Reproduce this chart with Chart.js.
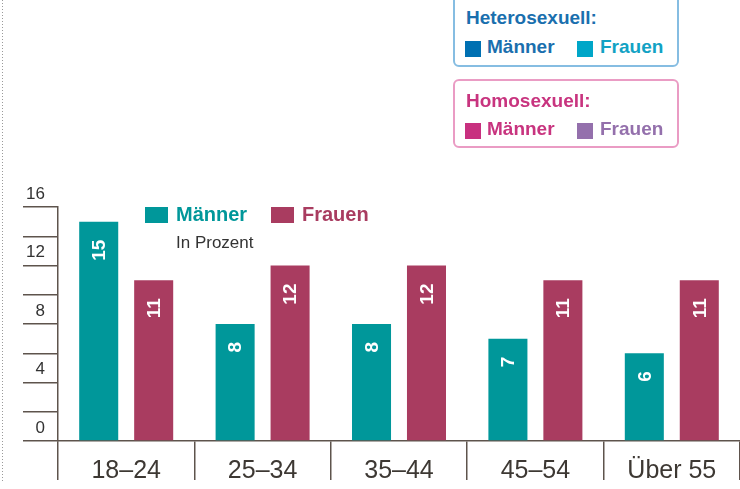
<!DOCTYPE html>
<html>
<head>
<meta charset="utf-8">
<script src="https://cdn.jsdelivr.net/npm/chart.js@4/dist/chart.umd.min.js"></script>
<style>
  body { margin: 0; background: #fff; font-family: "Liberation Sans", Arial, sans-serif; }
  #wrap { position: relative; width: 740px; height: 489px; overflow: hidden; }
  .box { position: absolute; left: 453px; width: 222px; border-radius: 6px; background: #fff; }
  .box .ttl { position: absolute; left: 11px; font-weight: bold; font-size: 19px; }
  .box .itm { position: absolute; font-weight: bold; font-size: 19px; }
  .box .sq { position: absolute; width: 16px; height: 16px; }
  .lg { position: absolute; font-weight: bold; font-size: 20px; }
  .lsq { position: absolute; width: 23px; height: 16px; }
</style>
</head>
<body>
<div id="wrap">
  <canvas id="bar-chartcanvas" width="740" height="489"></canvas>

  <!-- box top right: heterosexuell -->
  <div class="box" style="top:-12px;height:75px;border:2px solid #86bde2;">
    <div class="ttl" style="top:17px;color:#1a6fae;">Heterosexuell:</div>
    <div class="sq" style="left:10px;top:51px;background:#0070b2;"></div>
    <div class="itm" style="left:32px;top:46px;color:#1a6fae;">Männer</div>
    <div class="sq" style="left:122px;top:51px;background:#00a6c8;"></div>
    <div class="itm" style="left:145px;top:46px;color:#12a2c4;">Frauen</div>
  </div>
  <!-- box: homosexuell -->
  <div class="box" style="top:79px;height:65px;border:2px solid #ea9cc4;">
    <div class="ttl" style="top:9px;color:#c8347f;">Homosexuell:</div>
    <div class="sq" style="left:10px;top:42px;background:#c8307f;"></div>
    <div class="itm" style="left:32px;top:37px;color:#c8347f;">Männer</div>
    <div class="sq" style="left:122px;top:42px;background:#9470ac;"></div>
    <div class="itm" style="left:145px;top:37px;color:#9470ac;">Frauen</div>
  </div>

  <!-- legend inside chart -->
  <div class="lsq" style="left:145px;top:207px;background:#00979a;"></div>
  <div class="lg" style="left:176px;top:203px;color:#00979a;">Männer</div>
  <div class="lsq" style="left:271px;top:207px;background:#a93c60;"></div>
  <div class="lg" style="left:302px;top:203px;color:#a93c60;">Frauen</div>
  <div style="position:absolute;left:176px;top:233px;font-size:17px;color:#333;">In Prozent</div>
</div>

<script>
// data
var categories = ["18–24", "25–34", "35–44", "45–54", "Über 55"];
var maenner = [15, 8, 8, 7, 6];
var frauen = [11, 12, 12, 11, 11];
var yTicks = [0, 4, 8, 12, 16];

var axisColor = "#5e544d";

// white rotated numbers at the top of each bar
var barLabels = {
  id: "barLabels",
  afterDatasetsDraw: function(chart) {
    var ctx = chart.ctx;
    chart.data.datasets.forEach(function(ds, i) {
      var meta = chart.getDatasetMeta(i);
      meta.data.forEach(function(bar, j) {
        ctx.save();
        ctx.translate(bar.x, bar.y + 18);
        ctx.rotate(-Math.PI / 2);
        ctx.fillStyle = "#fff";
        ctx.font = "bold 19px 'Liberation Sans', Arial, sans-serif";
        ctx.textAlign = "right";
        ctx.textBaseline = "middle";
        ctx.fillText(ds.data[j], 0, 1);
        ctx.restore();
      });
    });
  }
};

// dotted line on the left edge
var leftEdge = {
  id: "leftEdge",
  beforeDraw: function(chart) {
    var ctx = chart.ctx;
    ctx.save();
    ctx.strokeStyle = "#9a9a9a";
    ctx.lineWidth = 1;
    ctx.setLineDash([1, 2]);
    ctx.beginPath();
    ctx.moveTo(2.5, 0);
    ctx.lineTo(2.5, 481);
    ctx.stroke();
    ctx.restore();
  }
};

var ctx1 = document.getElementById("bar-chartcanvas");

var chart1 = new Chart(ctx1, {
  type: "bar",
  data: {
    labels: categories,
    datasets: [
      {
        label: "Männer",
        data: maenner,
        backgroundColor: "#00979a",
        categoryPercentage: 0.806,
        barPercentage: 0.71
      },
      {
        label: "Frauen",
        data: frauen,
        backgroundColor: "#a93c60",
        categoryPercentage: 0.806,
        barPercentage: 0.71
      }
    ]
  },
  options: {
    responsive: false,
    animation: false,
    layout: { padding: { top: 207, left: 0, right: 0, bottom: 0 } },
    plugins: {
      legend: { display: false },
      tooltip: { enabled: false }
    },
    scales: {
      x: {
        afterFit: function(scale) { scale.height = 48; },
        border: { display: true, color: axisColor, width: 1.5 },
        grid: {
          offset: true,
          drawOnChartArea: false,
          drawTicks: true,
          tickLength: 39,
          color: axisColor,
          lineWidth: 1.5
        },
        ticks: {
          color: "#3d3833",
          padding: -24,
          font: { family: "'Liberation Sans', Arial, sans-serif", size: 25 }
        }
      },
      y: {
        min: 0,
        max: 16,
        afterFit: function(scale) { scale.width = 58; },
        border: { display: true, color: axisColor, width: 1.5 },
        grid: {
          drawOnChartArea: false,
          drawTicks: true,
          tickLength: 35,
          color: axisColor,
          lineWidth: 1.5
        },
        ticks: {
          stepSize: 2,
          color: "#333",
          padding: -22,
          labelOffset: -13,
          font: { family: "'Liberation Sans', Arial, sans-serif", size: 17 },
          callback: function(v) { return yTicks.indexOf(v) >= 0 ? v : ""; }
        }
      }
    }
  },
  plugins: [barLabels, leftEdge]
});
</script>
</body>
</html>
